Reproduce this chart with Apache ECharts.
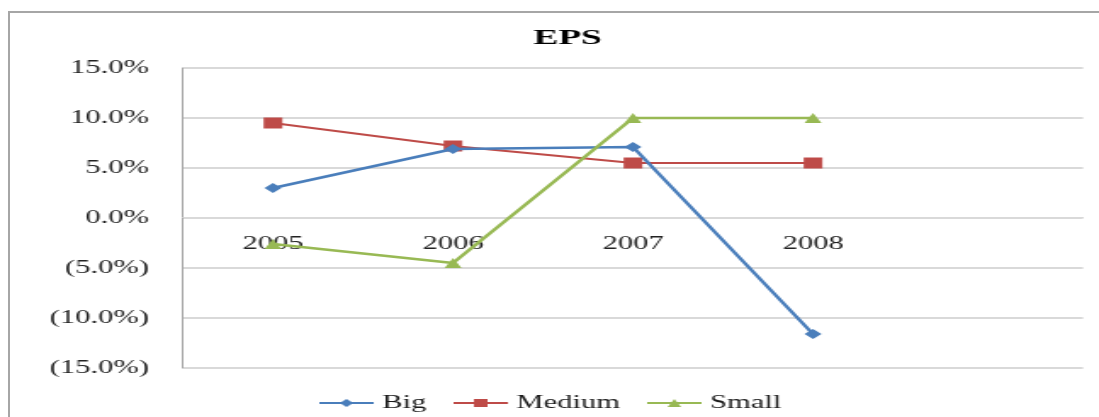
<!DOCTYPE html>
<html>
<head>
<meta charset="utf-8">
<script src="https://cdn.jsdelivr.net/npm/echarts@6/dist/echarts.min.js"></script>
<style>
  html, body { margin: 0; padding: 0; background: #fff; overflow: hidden; width: 1099px; height: 417px; }
  #frame { position: absolute; left: 8px; top: 11px; width: 1200px; height: 500px; border-left: 2px solid #a6a6a6; border-top: 2px solid #a6a6a6; box-sizing: border-box; }
  #chart { position: absolute; left: 0; top: 0; width: 647px; height: 417px; transform: scaleX(1.69861); transform-origin: 0 0; }
</style>
</head>
<body>
<div id="frame"></div>
<div id="chart"></div>
<script>
const categories = ['2005', '2006', '2007', '2008', ''];
const seriesNames = ['Big', 'Medium', 'Small'];
const bigValues = [3.0, 6.9, 7.1, -11.6];
const mediumValues = [9.5, 7.2, 5.5, 5.5];
const smallValues = [-2.6, -4.5, 10.0, 10.0];
const yTicks = { min: -15, max: 15, interval: 5 };

const serif = '"Liberation Serif", "Times New Roman", serif';
const chart = echarts.init(document.getElementById('chart'), null, { renderer: 'canvas' });

function fmt(v) {
  return v < 0 ? '(' + Math.abs(v).toFixed(1) + '%)' : v.toFixed(1) + '%';
}

chart.setOption({
  backgroundColor: 'transparent',
  animation: false,
  title: {
    text: 'EPS',
    left: 309,
    top: 22,
    textStyle: { fontFamily: serif, fontSize: 22, fontWeight: 'bold', color: '#000' }
  },
  legend: {
    data: seriesNames,
    left: 'center',
    top: 389,
    itemWidth: 32,
    itemHeight: 10,
    itemGap: 15,
    textStyle: { fontFamily: serif, fontSize: 18, color: '#1a1a1a' }
  },
  grid: { left: 107.7, right: 9.4, top: 68, bottom: 49, containLabel: false },
  xAxis: {
    type: 'category',
    data: categories,
    boundaryGap: true,
    position: 'bottom',
    offset: -151,
    axisLine: { show: true, onZero: false, lineStyle: { color: '#d9d9d9', width: 1 } },
    axisTick: { show: false },
    axisLabel: { margin: 18, fontFamily: serif, fontSize: 18, color: '#222', interval: 0 },
    splitLine: { show: false },
    z: 1
  },
  yAxis: {
    type: 'value',
    min: yTicks.min,
    max: yTicks.max,
    interval: yTicks.interval,
    axisLine: { show: true, lineStyle: { color: '#a6a6a6', width: 1 } },
    axisTick: { show: false },
    axisLabel: { margin: 20, fontFamily: serif, fontSize: 18, color: '#222', formatter: fmt },
    splitLine: { show: true, lineStyle: { color: '#d9d9d9', width: 2 } }
  },
  series: [
    {
      name: seriesNames[0], type: 'line', data: bigValues,
      symbol: 'diamond', symbolSize: 10,
      lineStyle: { color: '#4a7ebb', width: 2.5 },
      itemStyle: { color: '#4a7ebb' }, z: 3
    },
    {
      name: seriesNames[1], type: 'line', data: mediumValues,
      symbol: 'rect', symbolSize: 11,
      lineStyle: { color: '#be4b48', width: 2 },
      itemStyle: { color: '#be4b48' }, z: 2
    },
    {
      name: seriesNames[2], type: 'line', data: smallValues,
      symbol: 'triangle', symbolSize: 10,
      lineStyle: { color: '#98b954', width: 2.5 },
      itemStyle: { color: '#98b954' }, z: 4
    }
  ]
});
</script>
</body>
</html>
